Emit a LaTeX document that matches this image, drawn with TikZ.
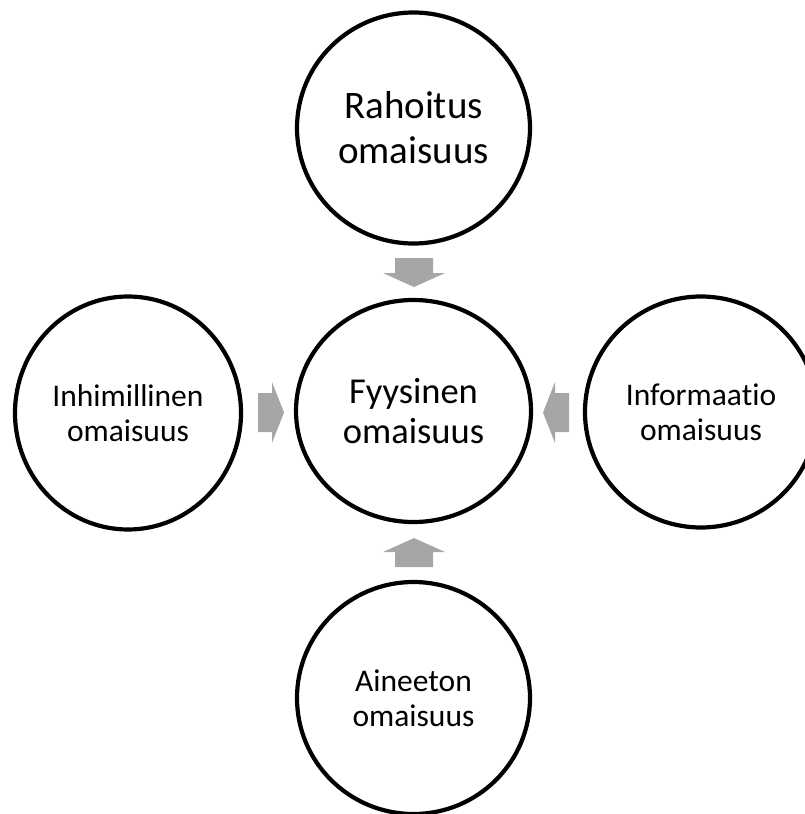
\documentclass[tikz,border=0pt]{standalone}
\usepackage{fontspec}
\setmainfont{Carlito}[Ligatures=NoCommon]
\usetikzlibrary{shapes.geometric}
\begin{document}
\begin{tikzpicture}[x=1pt,y=-1pt,
  ring/.style={ellipse, draw=black, line width=4.2pt, fill=white,
    align=center, inner sep=0pt},
  bigtext/.style={font=\fontsize{39}{45}\selectfont},
  midtext/.style={font=\fontsize{36.5}{40}\selectfont},
  smalltext/.style={font=\fontsize{31.5}{35}\selectfont},
  blockarrow/.style={fill=black!35}]
\useasboundingbox (0,0) rectangle (804,814);

% asset circles
\node[ring, bigtext, minimum width=233pt, minimum height=231pt] (fin) at (413.5,128) {Rahoitus\\omaisuus};
\node[ring, midtext, minimum width=235pt, minimum height=222pt] (phys) at (413.5,411) {Fyysinen\\omaisuus};
\node[ring, smalltext, minimum width=226pt, minimum height=233pt] (human) at (128,413) {Inhimillinen\\omaisuus};
\node[ring, smalltext, minimum width=232pt, minimum height=231pt] (info) at (701,412) {Informaatio\\omaisuus};
\node[ring, smalltext, minimum width=233pt, minimum height=232pt] (intang) at (413.5,698) {Aineeton\\omaisuus};

% block arrows pointing into the central circle
\fill[blockarrow] (395,258) -- (433,258) -- (433,273) -- (445,273) -- (414,287)
  -- (383,273) -- (395,273) -- cycle;
\fill[blockarrow] (258,393) -- (272,393) -- (272,382) -- (284,412.5) -- (272,443)
  -- (272,432) -- (258,432) -- cycle;
\fill[blockarrow] (569,393) -- (555,393) -- (555,382) -- (543,412.5) -- (555,443)
  -- (555,432) -- (569,432) -- cycle;
\fill[blockarrow] (395,567) -- (433,567) -- (433,552) -- (445,552) -- (414,538)
  -- (383,552) -- (395,552) -- cycle;
\end{tikzpicture}
\end{document}
